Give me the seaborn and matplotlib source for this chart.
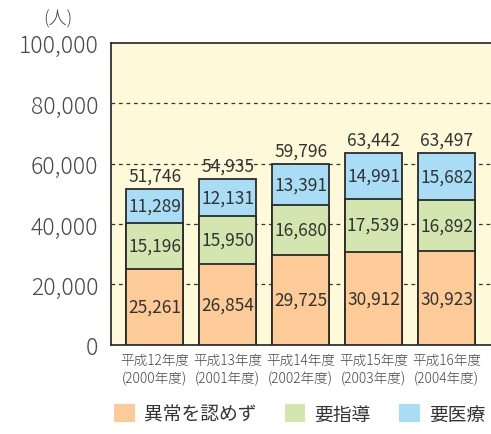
import pandas as pd
import matplotlib.pyplot as plt
import seaborn as sns
from matplotlib.ticker import FuncFormatter
from matplotlib.patches import Patch

years = ['平成12年度\n(2000年度)', '平成13年度\n(2001年度)', '平成14年度\n(2002年度)',
         '平成15年度\n(2003年度)', '平成16年度\n(2004年度)']
normal = [25261, 26854, 29725, 30912, 30923]
guidance = [15196, 15950, 16680, 17539, 16892]
medical = [11289, 12131, 13391, 14991, 15682]
totals = [51746, 54935, 59796, 63442, 63497]
series_names = ['異常を認めず', '要指導', '要医療']
colors = ['#fccb98', '#d3e6b0', '#a9ddf6']

sns.set_style('white')
plt.rcParams['font.family'] = ['Noto Sans CJK JP', 'DejaVu Sans']

df = pd.DataFrame({'year': years, 'normal': normal, 'guidance': guidance, 'medical': medical})
df['lvl1'] = df['normal']
df['lvl2'] = df['normal'] + df['guidance']
df['lvl3'] = df['lvl2'] + df['medical']

fig = plt.figure(figsize=(4.91, 4.35), dpi=100)
ax = fig.add_axes([0.226, 0.205, 0.774, 0.694])
ax.set_facecolor('#fef9d8')

# stacked look: draw tallest first, then overlay
for col, c in zip(['lvl3', 'lvl2', 'lvl1'], colors[::-1]):
    sns.barplot(data=df, x='year', y=col, color=c, width=0.78, edgecolor='#2a2a2a',
                linewidth=1.3, saturation=1, ax=ax, zorder=3)

txt = '#333333'
fs = 12.5
for i in range(len(years)):
    ax.text(i, normal[i] / 2, f'{normal[i]:,}', ha='center', va='center', fontsize=fs,
            color=txt, zorder=5)
    ax.text(i, normal[i] + guidance[i] / 2, f'{guidance[i]:,}', ha='center', va='center',
            fontsize=fs, color=txt, zorder=5)
    ax.text(i, normal[i] + guidance[i] + medical[i] / 2, f'{medical[i]:,}', ha='center',
            va='center', fontsize=fs, color=txt, zorder=5)
    ax.text(i, totals[i] + 1400, f'{totals[i]:,}', ha='center', va='bottom', fontsize=fs,
            color=txt, zorder=5)

ax.set_ylim(0, 100000)
ax.set_xlim(-0.6, 4.61)
ax.set_yticks([0, 20000, 40000, 60000, 80000, 100000])
ax.yaxis.set_major_formatter(FuncFormatter(lambda v, p: f'{int(v):,}'))
ax.tick_params(axis='y', labelsize=16.5, colors='#4a4a4a', length=0, pad=9)
ax.tick_params(axis='x', labelsize=9.8, colors='#444444', length=0, pad=6)
for lab in ax.get_yticklabels():
    lab.set_fontweight('light')
for lab in ax.get_xticklabels():
    lab.set_linespacing(1.3)
    lab.set_fontweight('light')
ax.set_xlabel('')
ax.set_ylabel('')

for y in [20000, 40000, 60000, 80000]:
    ax.axhline(y, color='#333333', lw=0.9, ls=(0, (3, 3)), zorder=1)

for s in ['left', 'top', 'bottom']:
    ax.spines[s].set_color('#222222')
    ax.spines[s].set_linewidth(1.2)
ax.spines['right'].set_visible(False)

fig.text(0.117, 0.955, '(人)', fontsize=13, color='#444444', ha='center', va='center',
         fontweight='light')

handles = [Patch(facecolor=c, edgecolor='none') for c in colors]
fig.legend(handles, series_names, loc='lower center', bbox_to_anchor=(0.61, -0.017), ncol=3,
           frameon=False, fontsize=13.5, handlelength=1.1, handleheight=1.1,
           columnspacing=1.5, handletextpad=0.5, labelcolor='#333333')

fig.savefig('out.png', dpi=100)
